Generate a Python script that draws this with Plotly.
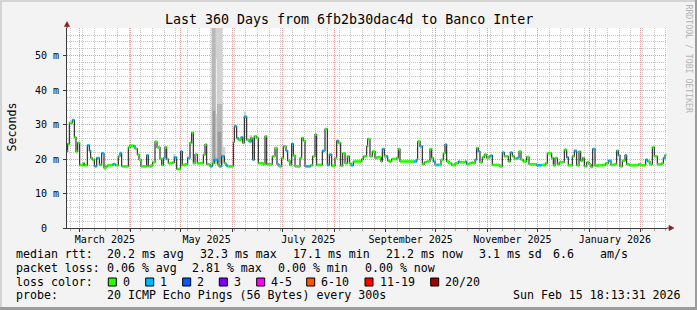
import pandas as pd
import plotly.graph_objects as go

# ---------------- data ----------------
START = pd.Timestamp("2025-02-21 18:13:31")
SPAN_DAYS = 360
END_DATA_DAY = 359.6

# median rtt as step segments: start (days after START), value (ms), lost pings
seg_day = [0.0, 0.4, 1.4, 3.2, 4.4, 5.4, 6.4, 7.6, 9.8, 10.4, 12.2, 13.4, 14.2, 15.2, 16.4, 17.8,
           19.4, 20.8, 22.2, 23.4, 24.4, 27.4, 29.2, 30.8, 31.8, 32.8, 36.8, 37.8, 39.8, 40.8,
           42.2, 43.2, 44.4, 47.8, 48.8, 50.4, 51.4, 52.8, 54.0, 55.8, 56.8, 57.8, 58.8, 59.8,
           60.8, 63.2, 64.4, 65.8, 68.2, 69.2, 70.8, 72.4, 73.8, 74.8, 75.8, 76.8, 78.2, 81.8,
           82.8, 83.8, 85.8, 87.2, 88.4, 90.4, 91.2, 92.8, 94.4, 95.4, 96.4, 99.8, 100.4, 101.8,
           102.8, 104.4, 105.4, 106.4, 107.8, 109.2, 110.4, 111.4, 112.4, 113.8, 114.8, 117.8,
           118.8, 119.8, 123.2, 124.8, 126.0, 127.2, 128.8, 129.8, 131.4, 132.4, 133.8, 134.8,
           135.8, 136.8, 139.8, 140.8, 141.8, 142.8, 146.2, 147.4, 148.8, 149.8, 153.2, 154.8,
           156.2, 157.4, 158.8, 160.8, 161.8, 162.8, 164.2, 165.4, 166.8, 168.2, 169.4, 170.4,
           171.8, 176.8, 177.8, 179.8, 180.4, 181.8, 183.2, 184.8, 185.8, 188.4, 189.2, 190.4,
           191.4, 192.4, 193.4, 194.8, 197.8, 198.8, 199.8, 208.2, 209.8, 210.4, 211.8, 213.2,
           214.4, 215.8, 217.8, 218.8, 219.8, 220.8, 221.8, 223.2, 224.4, 225.8, 226.8, 227.8,
           229.2, 230.8, 232.8, 234.8, 235.8, 238.8, 239.8, 241.2, 242.8, 243.8, 244.8, 245.8,
           246.8, 247.8, 249.2, 250.4, 251.8, 253.2, 254.4, 255.2, 259.8, 261.2, 262.4, 263.8,
           264.8, 266.0, 267.2, 268.4, 269.8, 271.2, 272.4, 273.8, 275.8, 277.2, 281.8, 284.8,
           287.2, 288.2, 290.8, 291.8, 292.8, 294.2, 295.4, 298.4, 299.8, 300.8, 303.2, 304.4,
           305.8, 307.2, 308.2, 309.4, 310.4, 311.8, 313.2, 314.4, 315.4, 316.8, 318.4, 321.8,
           323.2, 324.8, 326.4, 328.2, 329.8, 330.8, 331.8, 333.2, 334.8, 335.8, 337.4, 342.8,
           344.4, 347.2, 348.4, 349.8, 351.2, 352.4, 354.2, 356.8, 357.8, 358.8]
seg_ms = [22.2, 24.4, 30.5, 31.3, 26.3, 22.2, 24.7, 18.3, 18.8, 18.2, 24.0, 22.4, 20.3, 19.8, 17.9, 20.3,
          18.3, 21.7, 17.4, 17.9, 18.2, 18.5, 18.2, 20.8, 21.7, 17.9, 23.4, 23.9, 23.8, 23.0,
          21.3, 19.8, 17.9, 21.1, 17.9, 18.2, 19.1, 25.0, 23.4, 20.1, 18.3, 20.3, 23.4, 20.0,
          18.8, 19.0, 20.5, 17.1, 22.2, 18.3, 18.5, 20.3, 24.7, 27.6, 18.8, 21.3, 18.8, 21.3,
          24.2, 18.5, 17.9, 18.8, 19.8, 18.5, 17.9, 20.8, 18.8, 18.2, 17.9, 24.9, 29.5, 26.1,
          25.6, 26.3, 24.7, 32.3, 25.6, 25.1, 26.1, 19.8, 26.6, 26.1, 18.8, 18.5,
          26.6, 18.5, 20.8, 23.2, 18.5, 17.9, 20.3, 23.7, 22.4, 19.5, 18.3, 24.4,
          21.0, 17.9, 20.3, 26.1, 25.3, 17.9, 18.2, 20.8, 27.1, 18.3, 22.4, 28.7,
          18.3, 21.3, 18.1, 20.3, 25.3, 24.7, 18.1, 21.7, 18.8, 20.8, 18.8, 18.2,
          19.3, 20.0, 20.8, 23.7, 25.8, 20.8, 22.2, 20.3, 20.5, 19.3, 22.9, 20.8,
          20.8, 19.5, 19.3, 20.0, 20.3, 22.9, 19.3, 19.3, 19.8, 25.1, 23.7, 18.5,
          19.1, 19.3, 22.9, 20.3, 19.3, 18.3, 18.3, 18.3, 19.8, 21.7, 24.2, 19.3,
          18.8, 18.3, 18.8, 19.3, 19.1, 19.3, 18.5, 18.8, 19.0, 18.8, 19.8, 23.2,
          22.2, 19.1, 20.5, 21.3, 20.3, 20.8, 21.0, 18.3, 17.9, 21.9, 20.8, 20.8,
          19.3, 21.9, 20.8, 20.1, 20.3, 22.2, 19.8, 19.3, 20.6, 18.5, 18.2, 18.3,
          18.8, 21.7, 20.3, 18.2, 20.3, 18.5, 19.1, 22.7, 20.5, 18.2, 20.8, 22.4,
          18.2, 22.2, 19.5, 20.3, 17.9, 19.1, 18.5, 17.7, 22.9, 18.1, 18.2, 18.3,
          18.8, 19.5, 18.3, 18.5, 22.4, 21.1, 17.9, 19.5, 21.1, 18.5, 18.2, 18.5,
          18.2, 19.8, 19.3, 18.5, 23.4, 20.8, 18.5, 18.8, 20.3, 21.2]
seg_loss = [0, 0, 0, 1, 0, 0, 0, 0, 0, 0, 1, 1, 0, 0, 1, 1,
            0, 1, 0, 0, 0, 1, 0, 0, 1, 0, 0, 0, 1, 0,
            0, 0, 0, 1, 0, 0, 0, 0, 0, 0, 0, 1, 0, 0,
            0, 0, 1, 0, 1, 0, 0, 1, 0, 0, 0, 0, 0, 0,
            0, 0, 1, 0, 1, 0, 1, 1, 0, 1, 0, 0, 1, 1,
            0, 1, 0, 1, 0, 1, 0, 1, 0, 0, 0, 0,
            0, 0, 0, 0, 1, 0, 0, 0, 1, 0, 0, 1,
            0, 0, 0, 0, 0, 1, 0, 0, 0, 0, 1, 0,
            1, 1, 0, 0, 1, 0, 0, 0, 0, 0, 0, 1,
            0, 0, 0, 0, 0, 0, 0, 0, 0, 0, 1, 0,
            1, 0, 0, 0, 0, 0, 0, 1, 0, 0, 1, 0,
            0, 0, 0, 0, 1, 0, 1, 0, 0, 0, 1, 0,
            0, 0, 0, 1, 0, 1, 0, 0, 0, 0, 1, 0,
            1, 0, 0, 0, 0, 1, 1, 0, 0, 1, 0, 0,
            0, 1, 0, 0, 1, 0, 0, 0, 0, 0, 1, 0,
            0, 0, 0, 0, 0, 0, 0, 0, 1, 0, 0, 1,
            0, 0, 0, 0, 0, 0, 0, 0, 1, 0, 0, 0,
            0, 1, 0, 0, 0, 1, 0, 0, 1, 0, 0, 0,
            0, 1, 0, 0, 0, 0, 0, 0, 1, 0]

# smoke (spread of the individual pings): day from, day to, low ms, high ms, shade level
smoke_from = [86.8, 89.2, 89.2, 90.0, 63.8, 93.2, 109.4, 106.0, 89.2, 86.8, 90.0, 87.4, 90.4]
smoke_to = [89.2, 90.0, 90.0, 93.2, 65.0, 95.0, 111.0, 107.4, 90.0, 89.2, 93.2, 89.0, 92.6]
smoke_lo = [18.5, 49.0, 18.5, 18.5, 19.5, 19.0, 24.5, 32.0, 33.0, 18.5, 18.5, 19.0, 19.0]
smoke_hi = [62.0, 62.0, 33.0, 62.0, 21.5, 23.5, 27.0, 33.8, 49.0, 62.0, 36.0, 34.0, 28.0]
smoke_level = [1, 1, 1, 1, 1, 1, 1, 1, 0, 2, 2, 3, 3]

month_starts = pd.date_range("2025-03-01", "2026-02-01", freq="MS")
label_months = ["2025-03-01", "2025-05-01", "2025-07-01", "2025-09-01", "2025-11-01", "2026-01-01"]
label_text = ["March 2025", "May 2025", "July 2025", "September 2025", "November 2025", "January 2026"]

y_tick_vals = [0, 10, 20, 30, 40, 50]
y_tick_text = ["0\u00a0\u00a0", "10\u00a0m", "20\u00a0m", "30\u00a0m", "40\u00a0m", "50\u00a0m"]

title_text = "Last 360 Days from 6fb2b30dac4d to Banco Inter"
row_rtt = ["median rtt:", "20.2 ms avg", "32.3 ms max", "17.1 ms min", "21.2 ms now", "3.1 ms sd", "6.6", "am/s"]
row_loss = ["packet loss:", "0.06 % avg", "2.81 % max", "0.00 % min", "0.00 % now"]
row_probe = ["probe:", "20 ICMP Echo Pings (56 Bytes) every 300s", "Sun Feb 15 18:13:31 2026"]
loss_labels = ["0", "1", "2", "3", "4-5", "6-10", "11-19", "20/20"]

# ---------------- style ----------------
W, H = 697, 310
ML, MR, MT, MB = 67, 30, 28, 82
PW, PH = W - ML - MR, H - MT - MB
Y_MAX = PH / 3.446
FONT = "DejaVu Sans Mono"
loss_colors = ["#26ff00", "#00b8ff", "#0059ff", "#7e00ff", "#ff00ff", "#ff5500", "#ff0000", "#a10000"]
smoke_colors = ["#ececec", "#d2d2d2", "#b8b8b8", "#9c9c9c"]
MGRID = "#e99a9a"
GRID = "#c6c6c6"
AXIS = "#3a3a3a"
ARROW = "#8e1e1e"

row_rtt_x = [16, 107.3, 200, 293.3, 386, 479.3, 553.3, 600.7]
row_loss_x = [16, 107.3, 192.7, 278.7, 365]
row_probe_x = [16, 107.3, 513.3]
loss_box_x = [108.3, 145.7, 182.7, 219.3, 256.7, 306.7, 365, 430.7]


def fx(xp):
    return (xp - ML) / PW


def fy(yp):
    return (H - MB - yp) / PH


END = START + pd.Timedelta(days=SPAN_DAYS)
t0 = START + pd.to_timedelta(seg_day, unit="D")
t_start = list(t0)
t_end = t_start[1:] + [START + pd.Timedelta(days=END_DATA_DAY)]

fig = go.Figure()

# smoke
for lvl in range(len(smoke_colors)):
    for a, b, lo, hi, l in zip(smoke_from, smoke_to, smoke_lo, smoke_hi, smoke_level):
        if l != lvl:
            continue
        ta = START + pd.Timedelta(days=a)
        tb = START + pd.Timedelta(days=b)
        fig.add_trace(go.Scatter(x=[ta, tb, tb, ta, ta], y=[lo, lo, hi, hi, lo], mode="lines",
                                 fill="toself", fillcolor=smoke_colors[lvl], line=dict(width=0),
                                 hoverinfo="skip", showlegend=False))

# median line
fig.add_trace(go.Scatter(x=t_start + [t_end[-1]], y=seg_ms + [seg_ms[-1]], mode="lines",
                         line=dict(color="#202020", width=1.1, shape="hv"),
                         hoverinfo="skip", showlegend=False))

# loss coloured bands
for bucket, col in enumerate(loss_colors):
    xs, ys = [], []
    for a, b, v, lc in zip(t_start, t_end, seg_ms, seg_loss):
        if lc == bucket:
            xs += [a, b, None]
            ys += [v, v, None]
    if xs:
        fig.add_trace(go.Scatter(x=xs, y=ys, mode="lines", line=dict(color=col, width=2.7),
                                 hoverinfo="skip", showlegend=False))

# label axis carrier
label_pos = []
for m in label_months:
    a = pd.Timestamp(m)
    b = a + pd.offsets.MonthBegin(1)
    label_pos.append(a + (b - a) / 2)
fig.add_trace(go.Scatter(x=[START, END], y=[None, None], xaxis="x2", mode="lines",
                         hoverinfo="skip", showlegend=False))

fig.update_layout(
    width=W, height=H, autosize=False,
    margin=dict(l=ML, r=MR, t=MT, b=MB, pad=0),
    paper_bgcolor="#f3f3f3", plot_bgcolor="#ffffff",
    showlegend=False,
    font=dict(family=FONT, color="#000000", size=10),
    xaxis=dict(type="date", range=[START, END], tickmode="array", tickvals=list(month_starts),
               ticktext=[""] * len(month_starts), showgrid=True, gridcolor=MGRID, griddash="1px,1px",
               gridwidth=1, ticks="outside", ticklen=3, tickcolor=AXIS, tickwidth=1,
               showline=True, linecolor=AXIS, linewidth=1, zeroline=False, fixedrange=True,
               minor=dict(dtick=7 * 86400000, tick0="2025-02-24", showgrid=True, gridcolor=GRID,
                          griddash="1px,1px", gridwidth=1, ticks="outside", ticklen=2,
                          tickcolor="#aaaaaa")),
    xaxis2=dict(type="date", range=[START, END], overlaying="x", anchor="y", side="bottom",
                tickmode="array", tickvals=label_pos, ticktext=label_text, showgrid=False,
                ticks="", showline=False, zeroline=False, tickfont=dict(size=10, family=FONT),
                ticklabelstandoff=4),
    yaxis=dict(range=[0, Y_MAX], tickmode="array", tickvals=y_tick_vals, ticktext=y_tick_text,
               showgrid=True, gridcolor=MGRID, griddash="1px,1px", gridwidth=1,
               ticks="outside", ticklen=3, tickcolor=AXIS, showline=True, linecolor=AXIS,
               linewidth=1, zeroline=False, tickfont=dict(size=10, family=FONT),
               ticklabelstandoff=2, fixedrange=True,
               minor=dict(dtick=2, showgrid=True, gridcolor=GRID, griddash="1px,1px", gridwidth=1)),
)

shapes = []
# frame of the image
shapes.append(dict(type="rect", xref="paper", yref="paper", x0=fx(0), x1=fx(W), y0=fy(2), y1=fy(0),
                   fillcolor="#d4d4d4", line=dict(width=0), layer="above"))
shapes.append(dict(type="rect", xref="paper", yref="paper", x0=fx(0), x1=fx(2), y0=fy(H), y1=fy(0),
                   fillcolor="#d4d4d4", line=dict(width=0), layer="above"))
shapes.append(dict(type="rect", xref="paper", yref="paper", x0=fx(0), x1=fx(W), y0=fy(H), y1=fy(307),
                   fillcolor="#9c9c9c", line=dict(width=0), layer="above"))
shapes.append(dict(type="rect", xref="paper", yref="paper", x0=fx(695), x1=fx(W), y0=fy(H), y1=fy(0),
                   fillcolor="#9c9c9c", line=dict(width=0), layer="above"))
# axis extensions and arrows
shapes.append(dict(type="line", xref="paper", yref="paper", x0=1, x1=fx(670), y0=0, y1=0,
                   line=dict(color=AXIS, width=1)))
shapes.append(dict(type="line", xref="paper", yref="paper", x0=0, x1=0, y0=1, y1=fy(24),
                   line=dict(color=AXIS, width=1)))
shapes.append(dict(type="path", xref="paper", yref="paper",
                   path=f"M {fx(669)} {fy(225.3)} L {fx(674)} {fy(228)} L {fx(669)} {fy(230.7)} Z",
                   fillcolor=ARROW, line=dict(color=ARROW, width=0.5)))
shapes.append(dict(type="path", xref="paper", yref="paper",
                   path=f"M {fx(64.3)} {fy(26.5)} L {fx(67)} {fy(21.5)} L {fx(69.7)} {fy(26.5)} Z",
                   fillcolor=ARROW, line=dict(color=ARROW, width=0.5)))
# loss colour boxes
for bx, col in zip(loss_box_x, loss_colors):
    shapes.append(dict(type="rect", xref="paper", yref="paper", x0=fx(bx), x1=fx(bx + 8),
                       y0=fy(286), y1=fy(278), fillcolor=col, line=dict(color="#000000", width=1)))
fig.update_layout(shapes=shapes)

ann = []


def text(s, xp, yp, size=11.6, anchor="left", color="#000000", angle=0):
    ann.append(dict(text=s, x=fx(xp), y=fy(yp), xref="paper", yref="paper", showarrow=False,
                    xanchor=anchor, yanchor="middle", borderpad=0, borderwidth=0, textangle=angle,
                    font=dict(family=FONT, size=size, color=color)))


text(title_text, 348.5, 19.4, size=13.3, anchor="center")
text("Seconds", 11, 127.5, size=11.6, anchor="center", angle=-90)
text("RRDTOOL / TOBI OETIKER", 688.5, 59, size=8.2, anchor="center", color="#b4b4b4", angle=90)
for s, xp in zip(row_rtt, row_rtt_x):
    text(s, xp - 0.5, 253.8)
for s, xp in zip(row_loss, row_loss_x):
    text(s, xp - 0.5, 267.8)
text("loss color:", 15.5, 281.9)
for lab, bx in zip(loss_labels, loss_box_x):
    text(lab, bx + 14.5, 281.9)
for s, xp in zip(row_probe, row_probe_x):
    text(s, xp - 0.5, 295.3)
fig.update_layout(annotations=ann)

fig.write_html("out.html", config={"displayModeBar": False})
